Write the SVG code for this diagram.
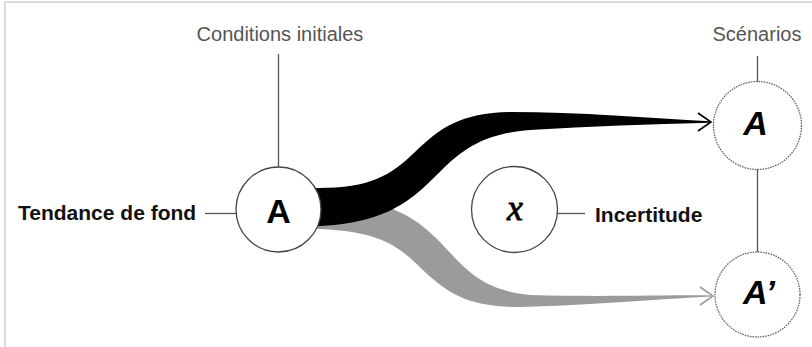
<svg xmlns="http://www.w3.org/2000/svg" width="812" height="347" viewBox="0 0 812 347">
  <style>
    .frame { fill: none; stroke: #cfcfcf; stroke-width: 1.5; }
    .lead { stroke: #555; stroke-width: 1.3; fill: none; }
    .node { fill: #fff; stroke: #444; stroke-width: 1.3; }
    .scen { fill: #fff; stroke: #666; stroke-width: 1.3; stroke-dasharray: 1.6 1; }
    .cap { font-family: "Liberation Sans", Arial, sans-serif; font-size: 20px; fill: #555; text-anchor: middle; }
    .bold { font-family: "Liberation Sans", Arial, sans-serif; font-size: 21px; font-weight: bold; fill: #111; }
    .letter { font-family: "Liberation Sans", Arial, sans-serif; font-weight: bold; fill: #000; text-anchor: middle; }
  </style>

  <rect width="812" height="347" fill="#fff"/>
  <rect class="frame" x="5" y="2" width="830" height="370"/>

  <!-- connectors: flows (grey under black) and leader lines -->
  <g id="connectors">
    <path id="flow-alt" fill="#9b9b9b" d="M 300 212 L 380 205 C 405 212, 420 222, 440 242 C 465 268, 480 290, 530 295 C 600 297, 660 295, 712 295.4 L 712 296.6 C 660 299, 600 305, 520 307 C 470 307, 450 295, 425 272 C 400 248, 385 232, 320 229 L 300 229 Z"/>
    <path id="flow-main" fill="#000" d="M 300 188 L 318 188 C 370 188, 390 176, 415 152 C 440 128, 460 113, 510 112 C 580 112, 650 118, 710 121.3 L 710 122.7 C 650 124, 590 126, 530 130 C 490 133, 470 145, 450 162 C 420 190, 400 222, 320 226 L 300 226 Z"/>
    <polyline fill="none" stroke="#000" stroke-width="1.6" points="698,113 711,122 698,131"/>
    <polyline fill="none" stroke="#9b9b9b" stroke-width="1.6" points="700,287 713,296 700,305"/>

    <line class="lead" x1="278.5" y1="54" x2="278.5" y2="167"/>
    <line class="lead" x1="205" y1="213.5" x2="236" y2="213.5"/>
    <line class="lead" x1="557" y1="213.5" x2="585" y2="213.5"/>
    <line class="lead" x1="757.5" y1="56" x2="757.5" y2="82"/>
    <line class="lead" x1="757.5" y1="168" x2="757.5" y2="252"/>
  </g>

  <text class="cap" x="280" y="41">Conditions initiales</text>
  <text class="cap" x="757" y="41">Scénarios</text>

  <g id="node-trend">
    <text class="bold" x="18" y="220">Tendance de fond</text>
    <circle class="node" cx="278.5" cy="209.5" r="42.5"/>
    <text class="letter" x="278.5" y="222.5" font-size="34">A</text>
  </g>

  <g id="node-uncertainty">
    <circle class="node" cx="514.5" cy="209.5" r="43"/>
    <text x="515" y="220" font-family="'Liberation Serif', 'Times New Roman', serif" font-size="36" font-style="italic" fill="#000" stroke="#000" stroke-width="0.8" text-anchor="middle">x</text>
    <text class="bold" x="595" y="221.5">Incertitude</text>
  </g>

  <g id="scenario-a">
    <circle class="scen" cx="757.5" cy="125.5" r="44"/>
    <text class="letter" x="755.5" y="134.5" font-size="34" font-style="italic">A</text>
  </g>

  <g id="scenario-a-prime">
    <circle class="scen" cx="757.5" cy="294.5" r="42.5"/>
    <text class="letter" x="759" y="303.5" font-size="34" font-style="italic">A’</text>
  </g>
</svg>
